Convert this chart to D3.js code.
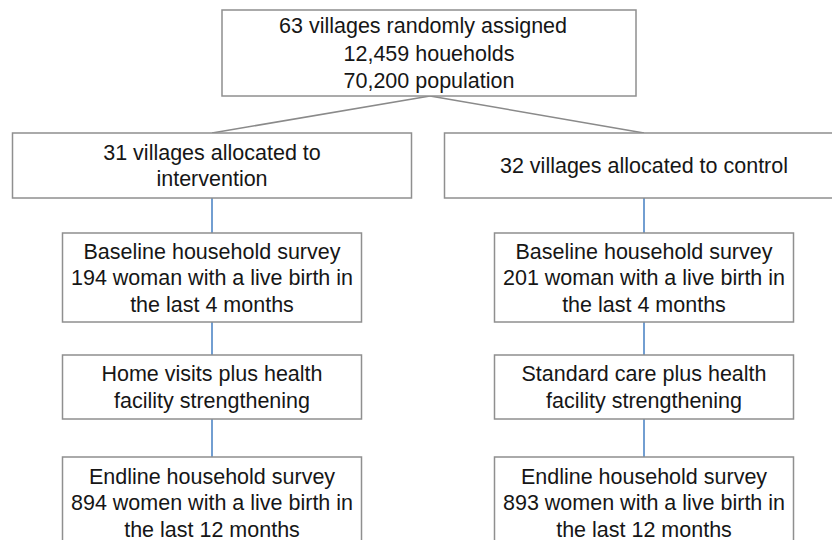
<!DOCTYPE html>
<html>
<head>
<meta charset="utf-8">
<script src="https://cdn.jsdelivr.net/npm/d3@7"></script>
<style>
  body { margin: 0; background: #fff; }
  svg { display: block; }
</style>
</head>
<body>
<script>
// flowchart text, one array per column
var topText = ["63 villages randomly assigned\u00a0\u00a0", "12,459 houeholds", "70,200 population"];

var interventionSteps = [
  ["31 villages allocated to", "intervention"],
  ["Baseline household survey", "194 woman with a live birth in", "the last 4 months"],
  ["Home visits plus health", "facility strengthening"],
  ["Endline household survey", "894 women with a live birth in", "the last 12 months"]
];

var controlSteps = [
  ["32 villages allocated to control"],
  ["Baseline household survey", "201 woman with a live birth in", "the last 4 months"],
  ["Standard care plus health", "facility strengthening"],
  ["Endline household survey", "893 women with a live birth in", "the last 12 months"]
];

var arms = ["intervention", "control"];
var rows = ["top", "allocated", "baseline", "treatment", "endline"];

var width = 832, height = 540;

var svg = d3.select("body").append("svg")
  .attr("width", width)
  .attr("height", height);

// layout scales
var x = d3.scalePoint().domain(arms).range([212, 644]);
var rowTop = d3.scaleOrdinal().domain(rows).range([10, 133, 233, 355, 457]);
var rowH = d3.scaleOrdinal().domain(rows).range([86, 65, 89, 64, 91]);
var rowW = d3.scaleOrdinal().domain(rows).range([414, 399, 299, 299, 299]);
var lineH = d3.scaleOrdinal().domain(rows).range([27.5, 26.5, 26.5, 26.5, 26.5]);

// build node list
var nodes = [{ row: "top", cx: (x("intervention") + x("control")) / 2 + 1, lines: topText }];
arms.forEach(function(arm) {
  var steps = arm == "intervention" ? interventionSteps : controlSteps;
  steps.forEach(function(s, i) {
    nodes.push({ row: rows[i + 1], arm: arm, cx: x(arm), lines: s });
  });
});

// gray lines from top box to the two arms
var topNode = nodes[0];
var splitX = topNode.cx + 1;
svg.selectAll(".split")
  .data(arms)
  .enter()
  .append("line")
  .attr("x1", splitX)
  .attr("y1", rowTop("top") + rowH("top"))
  .attr("x2", d => x(d))
  .attr("y2", rowTop("allocated"))
  .attr("stroke", "#8a8a8a")
  .attr("stroke-width", 1.5);

// blue connectors down each arm
var links = [];
arms.forEach(function(arm) {
  for (var i = 1; i < rows.length - 1; i++) {
    links.push({ arm: arm, from: rows[i], to: rows[i + 1] });
  }
});
svg.selectAll(".link")
  .data(links)
  .enter()
  .append("line")
  .attr("x1", d => x(d.arm))
  .attr("x2", d => x(d.arm))
  .attr("y1", d => rowTop(d.from) + rowH(d.from))
  .attr("y2", d => rowTop(d.to))
  .attr("stroke", "#4f86c6")
  .attr("stroke-width", 1.6);

// boxes
var box = svg.selectAll(".box")
  .data(nodes)
  .enter()
  .append("g")
  .attr("class", "box");

box.append("rect")
  .attr("x", d => d.cx - rowW(d.row) / 2)
  .attr("y", d => rowTop(d.row))
  .attr("width", d => rowW(d.row))
  .attr("height", d => rowH(d.row))
  .attr("fill", "#fff")
  .attr("stroke", "#8f8f8f")
  .attr("stroke-width", 1.5);

box.each(function(d) {
  var g = d3.select(this);
  var mid = rowTop(d.row) + rowH(d.row) / 2;
  var n = d.lines.length;
  d.lines.forEach(function(t, i) {
    g.append("text")
      .attr("x", d.cx)
      .attr("y", mid + (i - (n - 1) / 2) * lineH(d.row) + 7.6)
      .attr("text-anchor", "middle")
      .attr("font-family", "Helvetica, Arial, 'Liberation Sans', sans-serif")
      .attr("font-size", "21.5px")
      .attr("fill", "#161616")
      .style("white-space", "pre")
      .text(t);
  });
});
</script>
</body>
</html>
